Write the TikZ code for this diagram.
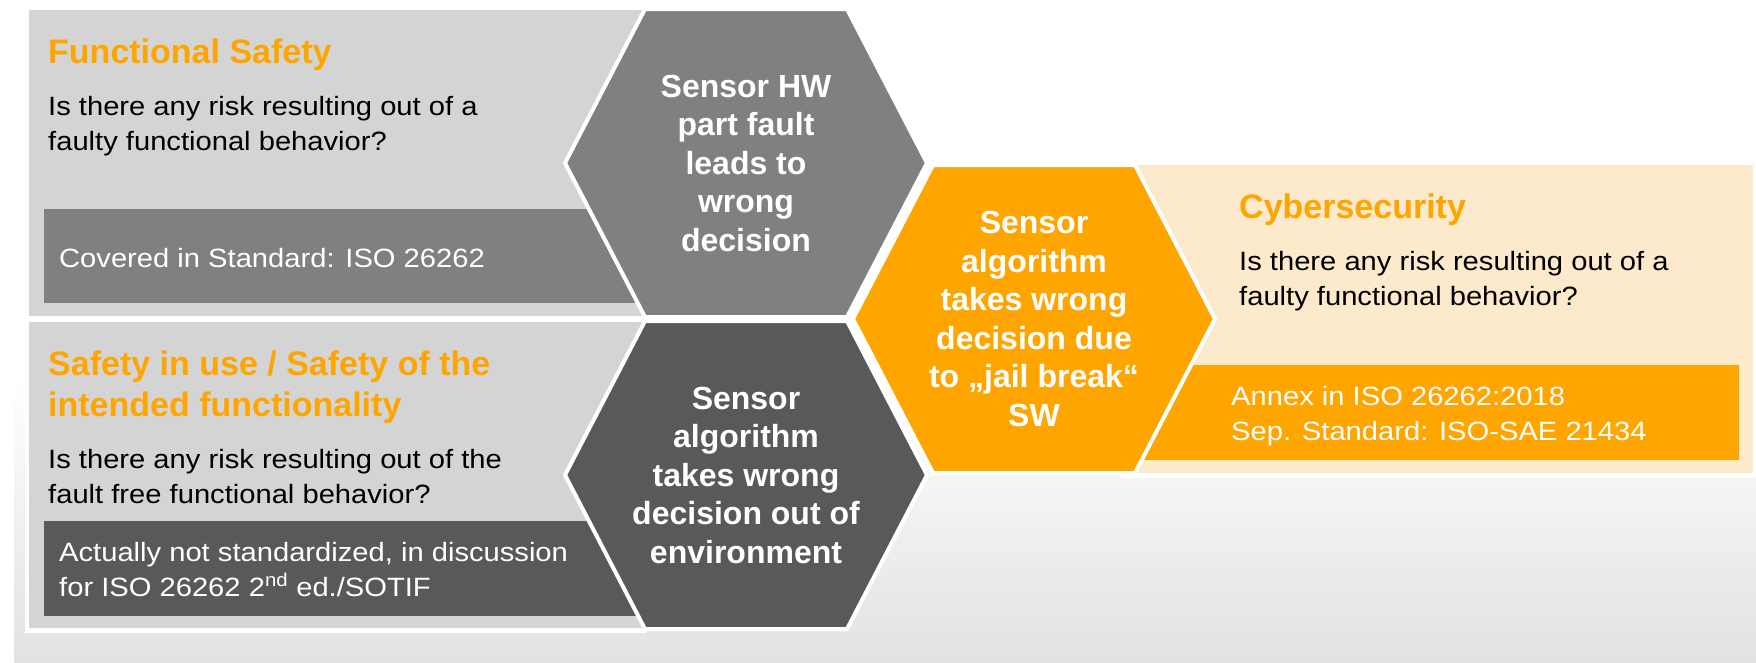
\documentclass[tikz,border=0pt]{standalone}
\usepackage{fontspec}
\setmainfont{Liberation Sans}
\newfontfamily\bodyfont[FakeStretch=1.1]{Liberation Sans}
\usetikzlibrary{calc}

\definecolor{safeorange}{RGB}{255,165,0}
\definecolor{cyberback}{RGB}{253,233,204}
\definecolor{panelgray}{RGB}{212,212,212}
\definecolor{hexgray}{RGB}{128,128,128}
\definecolor{hexdark}{RGB}{89,89,89}
\definecolor{bggray}{RGB}{226,226,226}

\begin{document}
\begin{tikzpicture}[%
x=1pt, y=-1pt,
panel/.style={fill=panelgray},
stdbox/.style={fill=hexgray},
hexa/.style={draw=white, line width=4pt},
headline/.style={anchor=base west, inner sep=0, text=safeorange, align=left,
  font=\bfseries\fontsize{34}{41}\selectfont},
question/.style={anchor=base west, inner sep=0, align=left,
  font=\bodyfont\fontsize{26.5}{35}\selectfont},
stdtext/.style={question, text=white},
hextext/.style={inner sep=0, text=white, align=center,
  font=\bfseries\fontsize{32}{38.5}\selectfont},
]

\pgfmathsetmacro{\hexw}{181}
\pgfmathsetmacro{\hexs}{80}
\pgfmathsetmacro{\hexh}{154}

\useasboundingbox (0,0) rectangle (1756,662);

% background
\shade[top color=white, bottom color=bggray] (14,380) rectangle (1756,662);

% left panels
\fill[white] (25,5) rectangle (646,633);
\fill[panel] (29,9.5) rectangle (652,316);
\fill[panel] (29,322) rectangle (652,628);
\fill[stdbox] (44,209) rectangle (648,303);
\fill[stdbox, fill=hexdark] (44,521) rectangle (648,616);

% right panel
\fill[white] (1120,161) rectangle (1756,478);
\fill[fill=cyberback] (1120,165) rectangle (1753,473);
\fill[fill=safeorange] (1120,365) rectangle (1739,460);

% texts, base = last line
\node[headline](fstitle) at (48,63){Functional Safety};
\node[question](fsq) at (48,150){Is there any risk resulting out of a\\faulty functional behavior?};
\node[stdtext](fsstd) at (59,267){Covered in Standard: ISO 26262};

\node[headline](sotiftitle) at (48,416){Safety in use / Safety of the\\intended functionality};
\node[question](sotifq) at (48,503){Is there any risk resulting out of the\\fault free functional behavior?};
\node[stdtext](sotifstd) at (59,596){Actually not standardized, in discussion\\for ISO 26262 2\textsuperscript{nd} ed./SOTIF};

\node[headline](cybertitle) at (1239,218){Cybersecurity};
\node[question](cyberq) at (1239,305){Is there any risk resulting out of a\\faulty functional behavior?};
\node[stdtext](cyberstd) at (1231,440){Annex in ISO 26262:2018\\Sep. Standard: ISO-SAE 21434};

% hexagons
\coordinate (hw) at (746,163);
\coordinate (env) at (746,475);
\coordinate (jb) at (1034,319);

\foreach \ctr/\col in {hw/hexgray, env/hexdark, jb/safeorange}
  \filldraw[hexa, fill=\col] ([shift={(-\hexw,0)}]\ctr)
    -- ([shift={(-\hexw+\hexs,-\hexh)}]\ctr) -- ([shift={(\hexw-\hexs,-\hexh)}]\ctr)
    -- ([shift={(\hexw,0)}]\ctr)
    -- ([shift={(\hexw-\hexs,\hexh)}]\ctr) -- ([shift={(-\hexw+\hexs,\hexh)}]\ctr)
    -- cycle;

\node[hextext](hwtext) at (hw){Sensor HW\\part fault\\leads to\\wrong\\decision};
\node[hextext](envtext) at (env){Sensor\\algorithm\\takes wrong\\decision out of\\environment};
\node[hextext](jbtext) at (jb){Sensor\\algorithm\\takes wrong\\decision due\\to „jail break“\\SW};

\end{tikzpicture}
\end{document}
